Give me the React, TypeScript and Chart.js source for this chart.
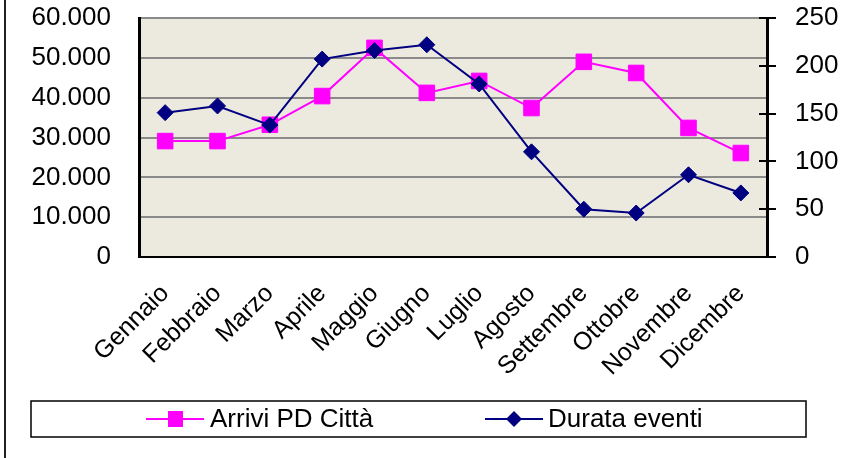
import React, { useEffect, useRef } from "react";
import { Chart, registerables } from "chart.js";

Chart.register(...registerables);

const months = ["Gennaio", "Febbraio", "Marzo", "Aprile", "Maggio", "Giugno", "Luglio", "Agosto", "Settembre", "Ottobre", "Novembre", "Dicembre"];
const arriviLabel = "Arrivi PD Città";
const durataLabel = "Durata eventi";
const arrivi = [29100, 29100, 33200, 40400, 52500, 41200, 44200, 37400, 49000, 46200, 32400, 26100];
const durata = [151, 158, 138, 207, 216, 222, 181, 110, 50, 46, 86, 67];
const leftTickLabels = ["0", "10.000", "20.000", "30.000", "40.000", "50.000", "60.000"];
const rightTickLabels = ["0", "50", "100", "150", "200", "250"];

const PINK = "#FF00FF";
const NAVY = "#000080";
const FONT = "'Liberation Sans', Arial, sans-serif";

const decorPlugin = {
  id: "decor",
  beforeDraw(chart: any) {
    const { ctx, chartArea } = chart;
    ctx.save();
    ctx.fillStyle = "#ECE9DF";
    ctx.fillRect(chartArea.left, chartArea.top, chartArea.right - chartArea.left, chartArea.bottom - chartArea.top);
    ctx.restore();
  },
  afterDraw(chart: any) {
    const { ctx, chartArea } = chart;
    const y1 = chart.scales.y1;
    ctx.save();
    // right axis crossing tick marks
    ctx.strokeStyle = "#000";
    ctx.lineWidth = 2;
    y1.ticks.forEach((t: any) => {
      const py = Math.round(y1.getPixelForValue(t.value));
      ctx.beginPath();
      ctx.moveTo(chartArea.right - 8, py);
      ctx.lineTo(chartArea.right + 9, py);
      ctx.stroke();
    });
    // outer frame left edge
    ctx.strokeStyle = "#222";
    ctx.lineWidth = 2;
    ctx.beginPath();
    ctx.moveTo(5, 0);
    ctx.lineTo(5, chart.height);
    ctx.stroke();
    // legend
    ctx.lineWidth = 1.5;
    ctx.strokeStyle = "#000";
    ctx.strokeRect(31, 401, 775, 36);
    const ly = 419;
    ctx.lineWidth = 2;
    ctx.strokeStyle = PINK;
    ctx.beginPath();
    ctx.moveTo(146, ly);
    ctx.lineTo(204, ly);
    ctx.stroke();
    ctx.fillStyle = PINK;
    ctx.fillRect(168, ly - 8, 15, 16);
    ctx.strokeStyle = NAVY;
    ctx.beginPath();
    ctx.moveTo(485, ly);
    ctx.lineTo(543, ly);
    ctx.stroke();
    ctx.fillStyle = NAVY;
    ctx.beginPath();
    ctx.moveTo(514 - 8, ly);
    ctx.lineTo(514, ly - 8);
    ctx.lineTo(514 + 8, ly);
    ctx.lineTo(514, ly + 8);
    ctx.closePath();
    ctx.fill();
    ctx.fillStyle = "#000";
    ctx.font = "26px " + FONT;
    ctx.textBaseline = "middle";
    ctx.textAlign = "left";
    ctx.fillText(arriviLabel, 210, ly + 1);
    ctx.fillText(durataLabel, 548, ly + 1);
    ctx.restore();
  },
};

export default function App() {
  const ref = useRef<HTMLCanvasElement | null>(null);
  useEffect(() => {
    if (!ref.current) return;
    const chart = new Chart(ref.current, {
      type: "line",
      data: {
        labels: months,
        datasets: [
          {
            label: durataLabel,
            data: durata,
            yAxisID: "y1",
            borderColor: NAVY,
            backgroundColor: NAVY,
            borderWidth: 2,
            pointStyle: "rectRot",
            pointRadius: 8,
            pointBorderWidth: 1,
            pointBorderColor: NAVY,
            pointBackgroundColor: NAVY,
            tension: 0,
          },
          {
            label: arriviLabel,
            data: arrivi,
            yAxisID: "y",
            borderColor: PINK,
            backgroundColor: PINK,
            borderWidth: 2,
            pointStyle: "rect",
            pointRadius: 11,
            pointBorderWidth: 1,
            pointBorderColor: PINK,
            pointBackgroundColor: PINK,
            tension: 0,
          },
        ],
      },
      options: {
        responsive: false,
        animation: false,
        layout: { padding: { top: 18, left: 0, right: 0, bottom: 0 } },
        plugins: { legend: { display: false }, tooltip: { enabled: false } },
        scales: {
          x: {
            offset: true,
            grid: { display: false, drawTicks: false },
            border: { display: true, color: "#000", width: 2 },
            ticks: {
              autoSkip: false,
              minRotation: 45,
              maxRotation: 45,
              padding: 22,
              color: "#000",
              font: { family: FONT, size: 25 },
            },
            afterFit(scale: any) {
              scale.height = 201;
            },
          },
          y: {
            position: "left",
            min: 0,
            max: 60000,
            grid: { color: "#8a8a8a", lineWidth: 2, drawTicks: true, tickLength: 28, tickColor: "rgba(0,0,0,0)" },
            border: { display: true, color: "#000", width: 3 },
            ticks: {
              stepSize: 10000,
              padding: 0,
              color: "#000",
              font: { family: FONT, size: 26 },
              callback: (_v: any, i: number) => leftTickLabels[i],
            },
            afterFit(scale: any) {
              scale.width = 139;
            },
          },
          y1: {
            position: "right",
            min: 0,
            max: 250,
            grid: { display: false, drawTicks: true, tickLength: 28 },
            border: { display: true, color: "#000", width: 3 },
            ticks: {
              stepSize: 50,
              padding: 0,
              color: "#000",
              font: { family: FONT, size: 26 },
              callback: (_v: any, i: number) => rightTickLabels[i],
            },
            afterFit(scale: any) {
              scale.width = 79;
            },
          },
        },
      },
      plugins: [decorPlugin],
    });
    return () => chart.destroy();
  }, []);
  return (
    <div style={{ position: "absolute", left: 0, top: 0, width: 846, height: 458, background: "#fff" }}>
      <canvas ref={ref} width={846} height={458} style={{ display: "block" }} />
    </div>
  );
}
